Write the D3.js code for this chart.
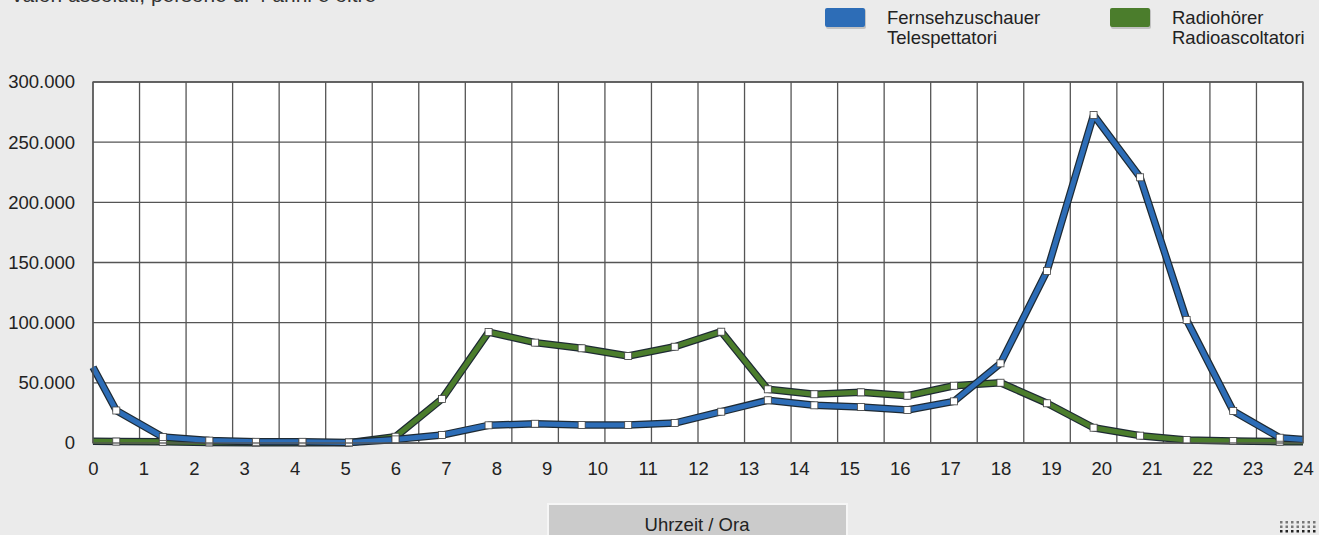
<!DOCTYPE html>
<html>
<head>
<meta charset="utf-8">
<script src="https://cdn.jsdelivr.net/npm/d3@7"></script>
<style>
  html, body { margin: 0; padding: 0; background: #ebebeb; }
  svg { display: block; font-family: "Liberation Sans", Arial, sans-serif; }
</style>
</head>
<body>
<svg id="chart" width="1319" height="535"></svg>
<script>
// ---- data ----
const hourTicks = d3.range(0, 25);               // axis labels 0..24
const yTicks = [0, 50000, 100000, 150000, 200000, 250000, 300000];
const slotCount = 26;                              // measurement slots across the day
// value at start (hour 0), values at the 26 slots, value at end (hour 24)
const tvStart = 63000, tvEnd = 3000;
const tvValues = [27000, 5000, 2000, 1000, 1000, 500, 3000, 6600, 14700, 16000, 15000, 15000, 16600,
                  26000, 35500, 31300, 30000, 27400, 34600, 66200, 143000, 272600, 220800, 102200, 26600, 4400];
const radioStart = 1500, radioEnd = 1000;
const radioValues = [1200, 1000, 500, 300, 300, 300, 5200, 36600, 92200, 83400, 78700, 72300, 80000,
                     92500, 44600, 40500, 42100, 39300, 47600, 50100, 33000, 12700, 6100, 2500, 1700, 1100];
const seriesNames = [["Fernsehzuschauer", "Telespettatori"], ["Radiohörer", "Radioascoltatori"]];
const seriesColors = ["#2d6db7", "#4b7d2c"];
const subtitle = "valori assoluti, persone di 4 anni e oltre";
const xTitle = "Uhrzeit / Ora";

// ---- layout ----
const svg = d3.select("#chart");
const L = 93, R = 1303, T = 82, B = 443;
const FS = 18.5;

const x = d3.scaleLinear().domain([0, 24]).range([L, R]);
const band = d3.scaleBand().domain(d3.range(slotCount)).range([L, R]).paddingInner(0).paddingOuter(0);
const y = d3.scaleLinear().domain([0, 300000]).range([B, T]);

// subtitle (cut at top, as in the original)
svg.append("text").attr("x", 12).attr("y", 2).attr("font-size", 21).attr("fill", "#333").text(subtitle);

// plot background
svg.append("rect").attr("x", L).attr("y", T).attr("width", R - L).attr("height", B - T).attr("fill", "#fff");

// grid: vertical lines at slot boundaries
const vLines = d3.range(slotCount + 1).map(i => i === slotCount ? R : band(i));
svg.append("g").selectAll("line").data(vLines).join("line")
  .attr("x1", d => d).attr("x2", d => d).attr("y1", T).attr("y2", B)
  .attr("stroke", "#555").attr("stroke-width", 1.3);
svg.append("g").selectAll("line").data(yTicks).join("line")
  .attr("x1", L).attr("x2", R).attr("y1", d => y(d)).attr("y2", d => y(d))
  .attr("stroke", "#555").attr("stroke-width", 1.3);

// y-axis labels
const yAxis = d3.axisLeft(y).tickValues(yTicks).tickSize(0).tickPadding(18)
  .tickFormat(d => d === 0 ? "0" : d3.format(",")(d).replace(/,/g, "."));
const ya = svg.append("g").attr("transform", `translate(${L},0)`).call(yAxis);
ya.select(".domain").remove();
ya.selectAll("text").attr("font-size", FS).attr("fill", "#222").attr("font-family", "Liberation Sans, Arial, sans-serif");

// x-axis labels
const xAxis = d3.axisBottom(x).tickValues(hourTicks).tickSize(0).tickPadding(19).tickFormat(d3.format("d"));
const xa = svg.append("g").attr("transform", `translate(0,${B})`).call(xAxis);
xa.select(".domain").remove();
xa.selectAll("text").attr("font-size", FS).attr("fill", "#222").attr("font-family", "Liberation Sans, Arial, sans-serif");

// series
function pts(start, vals, end) {
  const p = [[L, y(start)]];
  vals.forEach((v, i) => p.push([band(i) + band.bandwidth() / 2, y(v)]));
  p.push([R, y(end)]);
  return p;
}
const series = [pts(radioStart, radioValues, radioEnd), pts(tvStart, tvValues, tvEnd)];
const colors = [seriesColors[1], seriesColors[0]];
const line = d3.line();

series.forEach((p, si) => {
  const g = svg.append("g");
  g.append("path").attr("d", line(p)).attr("fill", "none").attr("stroke", "#1e2a33")
    .attr("stroke-width", 7.5).attr("stroke-linejoin", "round");
  g.append("path").attr("d", line(p)).attr("fill", "none").attr("stroke", colors[si])
    .attr("stroke-width", 5).attr("stroke-linejoin", "round");
});
series.forEach(p => {
  svg.append("g").selectAll("rect").data(p.slice(1, -1)).join("rect")
    .attr("x", d => d[0] - 3.5).attr("y", d => d[1] - 3.5).attr("width", 7).attr("height", 7)
    .attr("fill", "#fff").attr("stroke", "#444").attr("stroke-width", 0.8);
});

// plot border
svg.append("rect").attr("x", L).attr("y", T).attr("width", R - L).attr("height", B - T)
  .attr("fill", "none").attr("stroke", "#555").attr("stroke-width", 1.3);

// legend
const legX = [825, 1110];
seriesNames.forEach((names, i) => {
  const g = svg.append("g");
  g.append("rect").attr("x", legX[i] + 1).attr("y", 9).attr("width", 40).attr("height", 20).attr("rx", 2)
    .attr("fill", "#999").attr("opacity", 0.5);
  g.append("rect").attr("x", legX[i]).attr("y", 8).attr("width", 40).attr("height", 19).attr("rx", 2)
    .attr("fill", seriesColors[i]);
  names.forEach((t, j) => {
    g.append("text").attr("x", legX[i] + 62).attr("y", 24 + j * 20).attr("font-size", FS)
      .attr("fill", "#222").text(t);
  });
});

// x title box
svg.append("rect").attr("x", 548).attr("y", 504).attr("width", 299).attr("height", 40)
  .attr("fill", "#cbcbcb").attr("stroke", "#f6f6f6").attr("stroke-width", 2);
svg.append("text").attr("x", 697).attr("y", 531).attr("text-anchor", "middle").attr("font-size", FS)
  .attr("fill", "#222").text(xTitle);

// small dotted logo fragment bottom-right
const dots = svg.append("g");
for (let r = 0; r < 3; r++) for (let c = 0; c < 7; c++) {
  dots.append("rect").attr("x", 1280 + c * 5.5).attr("y", 521 + r * 4.5).attr("width", 2.5).attr("height", 2.5)
    .attr("fill", r === 2 ? "#222" : "#777");
}
</script>
</body>
</html>
